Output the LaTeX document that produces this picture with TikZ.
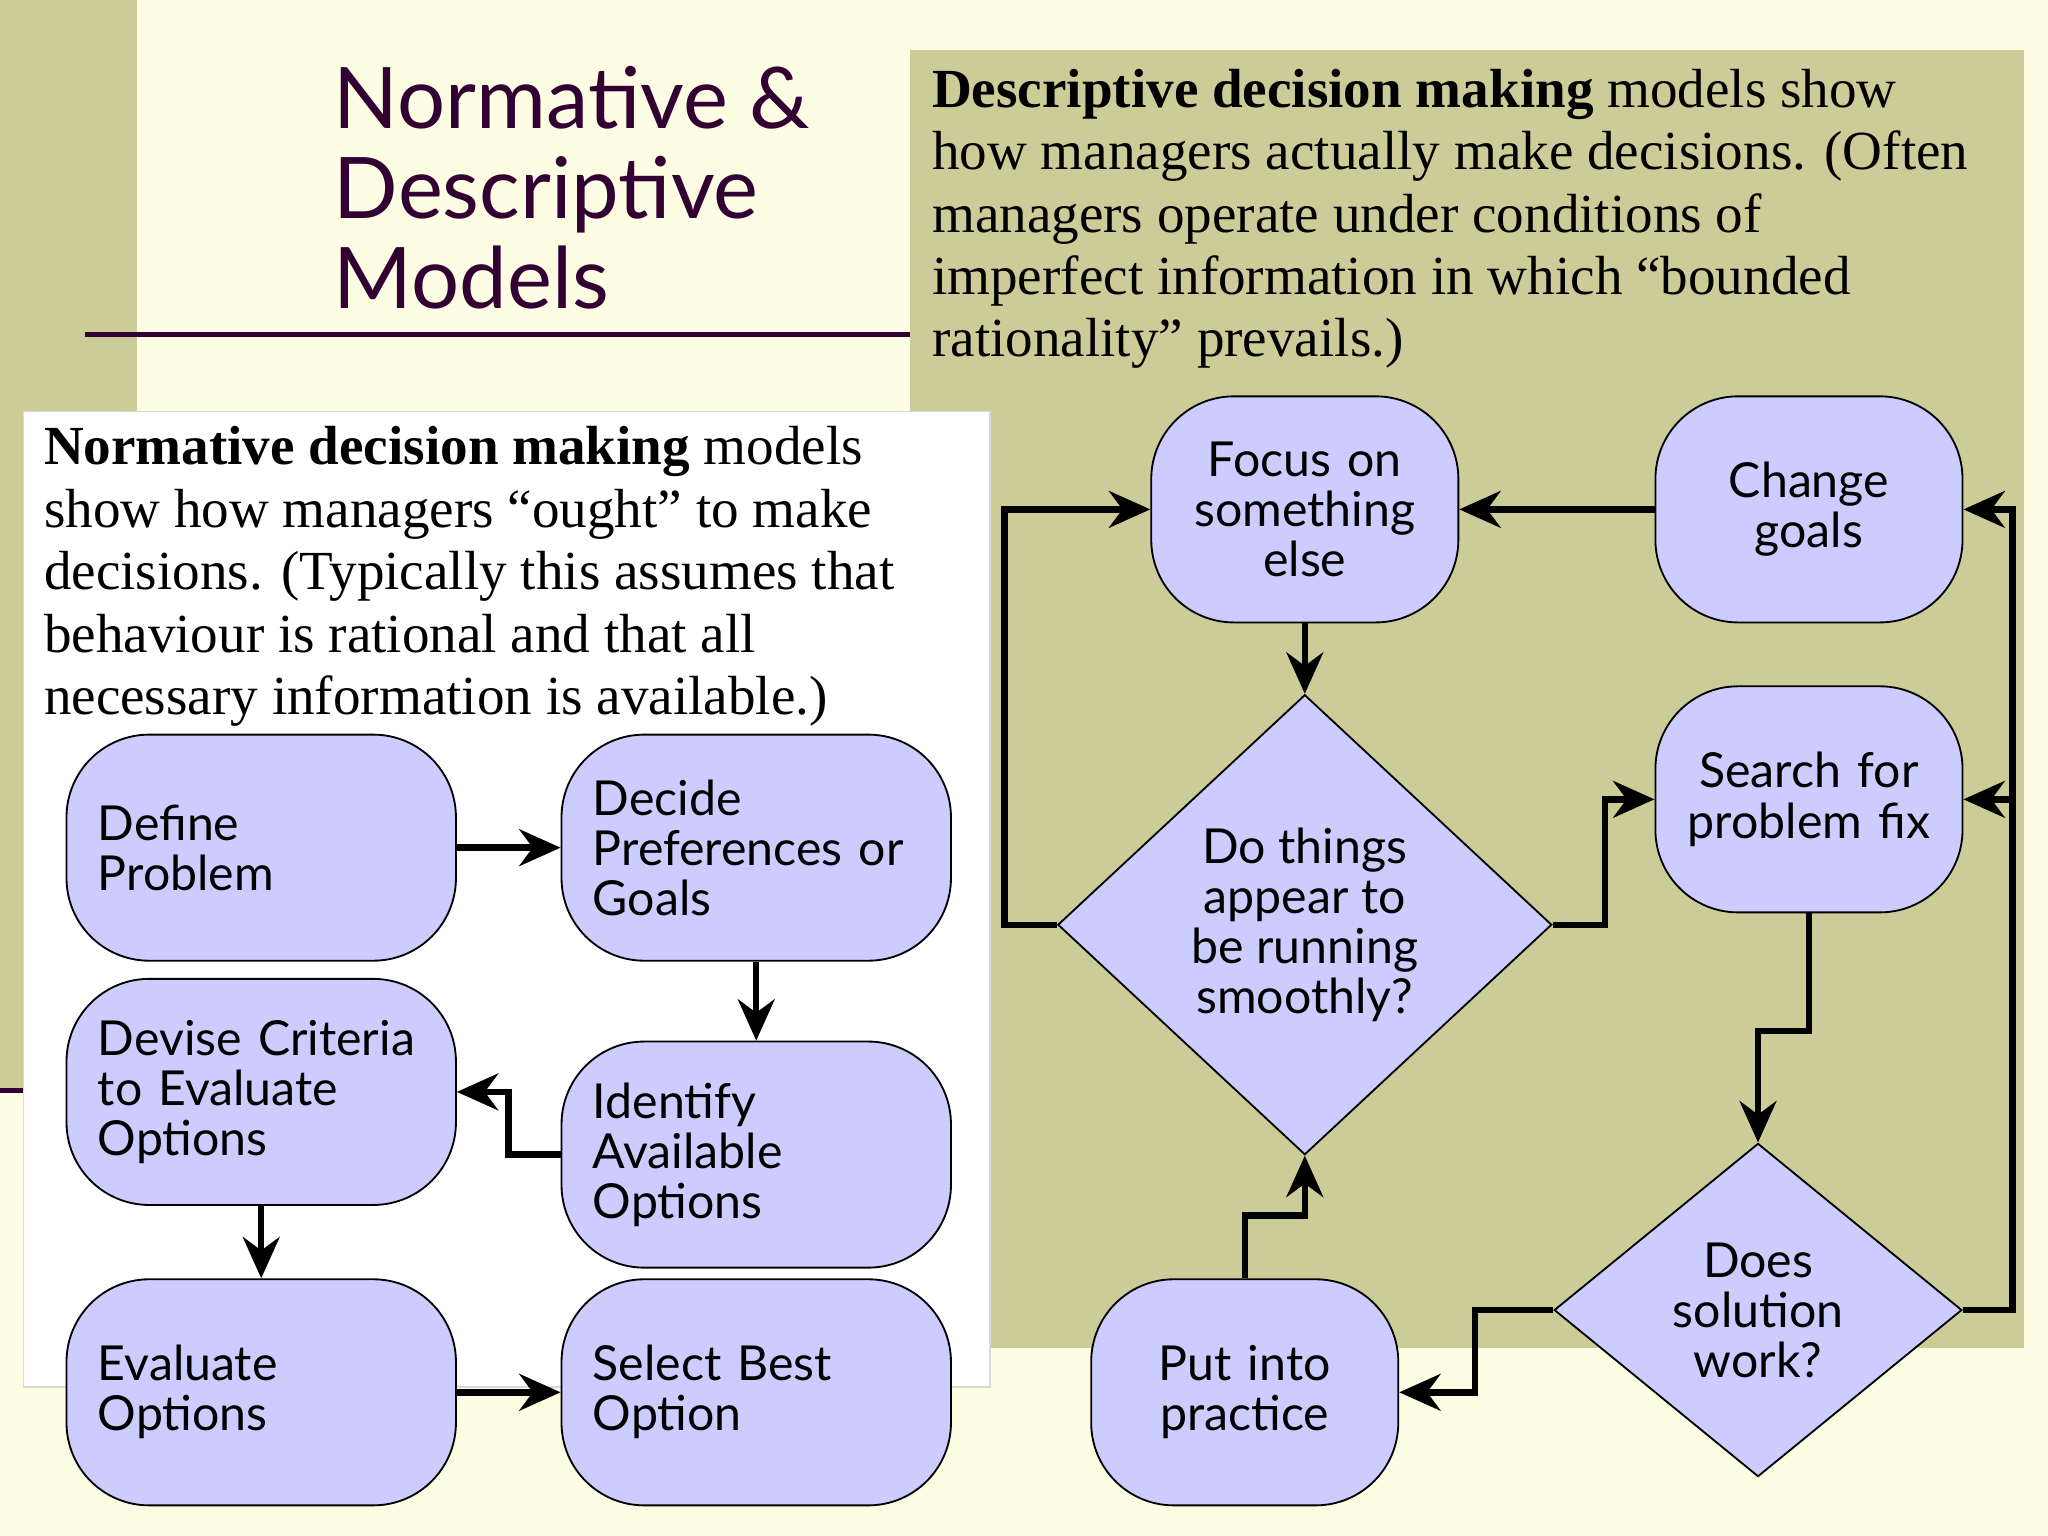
\documentclass[tikz,border=0pt]{standalone}
\usepackage{fontspec}
\setmainfont{Liberation Serif}
\newfontfamily\boxfont{Lato}
\usetikzlibrary{shapes.geometric,arrows.meta}
\definecolor{cream}{HTML}{FDFDE4}
\definecolor{olive}{HTML}{CCCC99}
\definecolor{boxblue}{HTML}{CCCCFF}
\definecolor{plum}{HTML}{330033}
\tikzset{
  stage/.style={draw, fill=boxblue, rounded corners=18pt, minimum width=2.98cm,
    minimum height=1.73cm, text width=2.5cm, align=left, inner sep=0pt,
    font=\boxfont\fontsize{10.5}{10.9}\selectfont},
  rstage/.style={stage, minimum width=2.35cm, text width=2.2cm, align=center},
  test/.style={draw, fill=boxblue, diamond, inner sep=0pt, align=center,
    font=\boxfont\fontsize{10.5}{10.9}\selectfont},
  flow/.style={-{Stealth[length=9pt,width=8pt]}, line width=1.4pt},
  serif text/.style={anchor=north west, align=left, inner sep=0pt,
    font=\fontsize{12}{13.6}\selectfont}
}
\begin{document}
\begin{tikzpicture}[x=0.01cm, y=-0.01cm]
  % page and panels
  \fill[cream] (0,0) rectangle (1568,1176);
  \useasboundingbox (0,0) rectangle (1568,1176);
  \fill[olive] (0,0) rectangle (105,835);
  \draw[plum, line width=1.2pt] (0,835) -- (18,835);
  \draw[plum, line width=1.2pt] (65,256) -- (697,256);
  \fill[olive] (697,38) rectangle (1550,1032);
  \draw[black!15, fill=white] (18,315) rectangle (758,1062);

  % title
  \node[anchor=north west, align=left, inner sep=0pt, text=plum,
    font=\boxfont\fontsize{18.5}{19.6}\selectfont] (title) at (255,50)
    {Normative \&\\Descriptive\\Models};

  % panel texts
  \node[serif text] (desc) at (713,52) {\textbf{Descriptive decision making} models show\\
    how managers actually make decisions. (Often\\
    managers operate under conditions of\\
    imperfect information in which ``bounded\\
    rationality'' prevails.)};
  \node[serif text] (norm) at (33,326) {\textbf{Normative decision making} models\\
    show how managers ``ought'' to make\\
    decisions. (Typically this assumes that\\
    behaviour is rational and that all\\
    necessary information is available.)};

  % normative stages
  \node[stage] (define) at (200,649) {Define\\Problem};
  \node[stage] (decide) at (579,649) {Decide\\Preferences or\\Goals};
  \node[stage] (devise) at (200,836) {Devise Criteria\\to Evaluate\\Options};
  \node[stage] (identify) at (579,884) {Identify\\Available\\Options};
  \node[stage] (evaluate) at (200,1066) {Evaluate\\Options};
  \node[stage] (select) at (579,1066) {Select Best\\Option};

  % descriptive stages
  \node[rstage] (focus) at (999,390) {Focus on\\something\\else};
  \node[rstage] (change) at (1385,390) {Change\\goals};
  \node[rstage] (search) at (1385,612) {Search for\\problem fix};
  \node[rstage] (practice) at (953,1066) {Put into\\practice};
  \node[test, minimum width=3.78cm, minimum height=3.52cm] (smooth) at (999,708)
    {Do things\\appear to\\be running\\smoothly?};
  \node[test, minimum width=3.12cm, minimum height=2.55cm] (works) at (1346,1003)
    {Does\\solution\\work?};

  % connectors, normative
  \draw[flow] (define) -- (decide);
  \draw[flow] (decide) -- (identify);
  \draw[flow] (identify.west) -- ++(-40,0) |- (devise.east);
  \draw[flow] (devise) -- (evaluate);
  \draw[flow] (evaluate) -- (select);

  % connectors, descriptive
  \draw[flow] (change) -- (focus);
  \draw[flow] (focus) -- (smooth);
  \draw[flow] (smooth.west) -- ++(-40,0) |- (focus.west);
  \draw[flow] (smooth.east) -- ++(40,0) |- (search.west);
  \draw[flow] (search.south) -- ++(0,90) -| (works.north);
  \draw[flow] (works.east) -- ++(38,0) |- (change.east);
  \draw[flow] (works.east) ++(38,0) |- (search.east);
  \draw[flow] (works.west) -- ++(-60,0) |- (practice.east);
  \draw[flow] (practice.north) -- ++(0,-48) -| (smooth.south);
\end{tikzpicture}
\end{document}
